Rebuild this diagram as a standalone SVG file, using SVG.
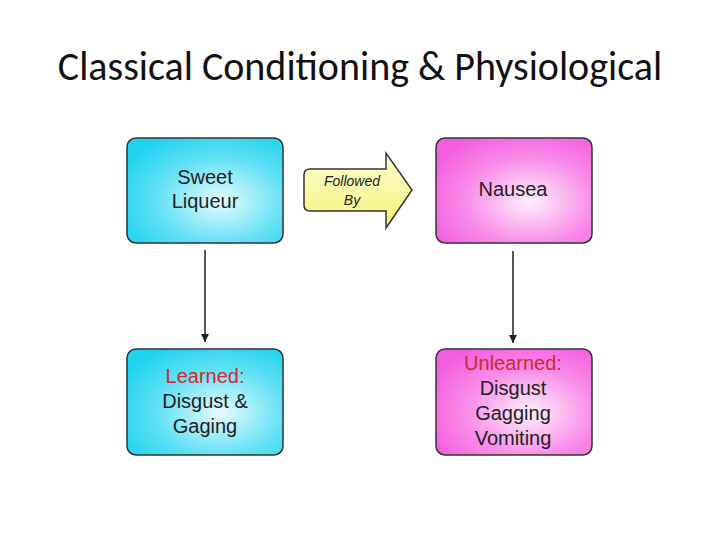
<svg xmlns="http://www.w3.org/2000/svg" width="720" height="540" viewBox="0 0 720 540">
<defs>
<radialGradient id="cy" cx="0.6" cy="0.6" r="0.7"><stop offset="0" stop-color="#e6fbff"/><stop offset="0.6" stop-color="#5fe0f5"/><stop offset="1" stop-color="#22d3ef"/></radialGradient>
<radialGradient id="mg" cx="0.6" cy="0.6" r="0.7"><stop offset="0" stop-color="#fff0fc"/><stop offset="0.6" stop-color="#f98ae8"/><stop offset="1" stop-color="#f45ee0"/></radialGradient>
<linearGradient id="yl" x1="0" y1="0" x2="0" y2="1"><stop offset="0" stop-color="#ffffd0"/><stop offset="1" stop-color="#f2f27a"/></linearGradient>
<marker id="ah" markerWidth="10" markerHeight="10" refX="8" refY="4" orient="auto" markerUnits="userSpaceOnUse"><path d="M0,0 L8,4 L0,8 Z" fill="#222"/></marker>
</defs>
<style>
.box{stroke:#333;stroke-width:1.5}
.t{font-family:"Liberation Sans",Arial,sans-serif;font-size:20px;fill:#222;text-anchor:middle}
.s{font-size:14px;font-style:italic}
.r{fill:#d0282e}
</style>
<rect width="720" height="540" fill="#fff"/>
<text x="360" y="80" font-family="Calibri,Carlito,'Liberation Sans',sans-serif" font-size="40" fill="#111" text-anchor="middle">Classical Conditioning &amp; Physiological</text>
<g id="connectors" stroke="#222" stroke-width="1.5">
<line x1="205" y1="250" x2="205" y2="342" marker-end="url(#ah)"/>
<line x1="513" y1="251" x2="513" y2="343" marker-end="url(#ah)"/>
</g>
<g id="followed">
<path d="M310,169 L386,169 L386,153 L412,190 L386,228 L386,211 L310,211 Q304,211 304,205 L304,175 Q304,169 310,169 Z" fill="url(#yl)" stroke="#333" stroke-width="1.5"/>
<text class="t s" x="352" y="186">Followed</text>
<text class="t s" x="352" y="205">By</text>
</g>
<g id="sweet"><rect class="box" x="127" y="138" width="156" height="105" rx="9" fill="url(#cy)"/>
<text class="t" x="205" y="184">Sweet</text><text class="t" x="205" y="208">Liqueur</text></g>
<g id="nausea"><rect class="box" x="436" y="138" width="156" height="105" rx="9" fill="url(#mg)"/>
<text class="t" x="513" y="196">Nausea</text></g>
<g id="learned"><rect class="box" x="127" y="349" width="156" height="106" rx="9" fill="url(#cy)"/>
<text class="t r" x="205" y="383">Learned:</text><text class="t" x="205" y="408">Disgust &amp;</text><text class="t" x="205" y="433">Gaging</text></g>
<g id="unlearned"><rect class="box" x="436" y="349" width="156" height="106" rx="9" fill="url(#mg)"/>
<text class="t r" x="513" y="370">Unlearned:</text><text class="t" x="513" y="395">Disgust</text><text class="t" x="513" y="420">Gagging</text><text class="t" x="513" y="445">Vomiting</text></g>
</svg>
